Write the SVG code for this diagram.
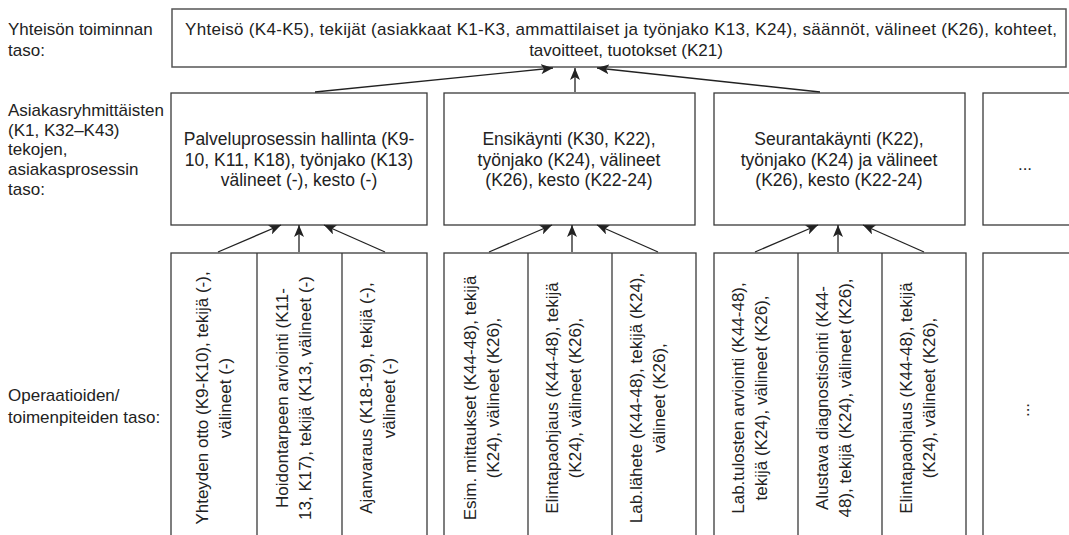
<svg xmlns="http://www.w3.org/2000/svg" width="1069" height="535" viewBox="0 0 1069 535">
  <style>
    text { font-family: "Liberation Sans", Arial, sans-serif; font-size: 17px; fill: #222; }
    .c { text-anchor: middle; }
    .mid { font-size: 17.5px; }
    .box { fill: #fff; stroke: #3a3a3a; stroke-width: 1.3; }
    .top { fill: #fff; stroke: #555; stroke-width: 1.5; }
    .div { stroke: #3a3a3a; stroke-width: 1.3; }
    .conn { stroke: #222; stroke-width: 1.3; fill: none; marker-end: url(#arrow); }
  </style>
  <defs>
    <marker id="arrow" markerUnits="userSpaceOnUse" markerWidth="13" markerHeight="10" refX="12" refY="5" orient="auto">
      <path d="M0,0 L12,5 L0,10 L3,5 z" fill="#222"/>
    </marker>
  </defs>

  <!-- level labels -->
  <g id="labels">
    <text x="8" y="35">Yhteisön toiminnan</text>
    <text x="8" y="56">taso:</text>
    <text x="8" y="116">Asiakasryhmittäisten</text>
    <text x="8" y="136">(K1, K32–K43)</text>
    <text x="8" y="155">tekojen,</text>
    <text x="8" y="175">asiakasprosessin</text>
    <text x="8" y="195">taso:</text>
    <text x="8" y="401">Operaatioiden/</text>
    <text x="8" y="423">toimenpiteiden taso:</text>
  </g>

  <!-- community level -->
  <g id="yhteiso">
    <rect class="top" x="172" y="9" width="894" height="58"/>
    <text class="c" x="621" y="35" textLength="872" lengthAdjust="spacing">Yhteisö (K4-K5), tekijät (asiakkaat K1-K3, ammattilaiset ja työnjako K13, K24), säännöt, välineet (K26), kohteet,</text>
    <text class="c" x="626" y="56">tavoitteet, tuotokset (K21)</text>
  </g>

  <!-- client process level -->
  <g id="palveluprosessi">
    <rect class="box" x="171" y="93" width="256" height="132"/>
    <text class="c mid" x="299" y="145">Palveluprosessin hallinta (K9-</text>
    <text class="c mid" x="299" y="166">10, K11, K18), työnjako (K13)</text>
    <text class="c mid" x="299" y="186">välineet (-), kesto (-)</text>
  </g>
  <g id="ensikaynti">
    <rect class="box" x="444" y="93" width="251" height="132"/>
    <text class="c mid" x="569" y="145">Ensikäynti (K30, K22),</text>
    <text class="c mid" x="569" y="166">työnjako (K24), välineet</text>
    <text class="c mid" x="569" y="186">(K26), kesto (K22-24)</text>
  </g>
  <g id="seurantakaynti">
    <rect class="box" x="714" y="93" width="251" height="132"/>
    <text class="c mid" x="839" y="145">Seurantakäynti (K22),</text>
    <text class="c mid" x="839" y="166">työnjako (K24) ja välineet</text>
    <text class="c mid" x="839" y="186">(K26), kesto (K22-24)</text>
  </g>
  <g id="muu-kaynti">
    <rect class="box" x="983" y="93" width="100" height="132"/>
    <text class="c" x="1025" y="170">...</text>
  </g>

  <!-- operation level: rotated cell texts read bottom to top -->
  <g id="operaatiot-1">
    <rect class="box" x="171" y="253" width="256" height="300"/>
    <line class="div" x1="257" y1="253" x2="257" y2="535"/>
    <line class="div" x1="342" y1="253" x2="342" y2="535"/>
    <g transform="translate(0,398) rotate(-90)">
      <text class="c" x="0" y="208">Yhteyden otto (K9-K10), tekijä (-),</text>
      <text class="c" x="0" y="231">välineet (-)</text>
      <text class="c" x="0" y="288">Hoidontarpeen arviointi (K11-</text>
      <text class="c" x="0" y="311">13, K17), tekijä (K13, välineet (-)</text>
      <text class="c" x="0" y="372">Ajanvaraus (K18-19), tekijä (-),</text>
      <text class="c" x="0" y="395">välineet (-)</text>
    </g>
  </g>
  <g id="operaatiot-2">
    <rect class="box" x="444" y="253" width="252" height="300"/>
    <line class="div" x1="528" y1="253" x2="528" y2="535"/>
    <line class="div" x1="612" y1="253" x2="612" y2="535"/>
    <g transform="translate(0,398) rotate(-90)">
      <text class="c" x="0" y="476">Esim. mittaukset (K44-48), tekijä</text>
      <text class="c" x="0" y="499">(K24), välineet (K26),</text>
      <text class="c" x="0" y="558">Elintapaohjaus (K44-48), tekijä</text>
      <text class="c" x="0" y="581">(K24), välineet (K26),</text>
      <text class="c" x="0" y="642">Lab.lähete (K44-48), tekijä (K24),</text>
      <text class="c" x="0" y="665">välineet (K26),</text>
    </g>
  </g>
  <g id="operaatiot-3">
    <rect class="box" x="714" y="253" width="252" height="300"/>
    <line class="div" x1="798" y1="253" x2="798" y2="535"/>
    <line class="div" x1="882" y1="253" x2="882" y2="535"/>
    <g transform="translate(0,398) rotate(-90)">
      <text class="c" x="0" y="744">Lab.tulosten arviointi (K44-48),</text>
      <text class="c" x="0" y="767">tekijä (K24), välineet (K26),</text>
      <text class="c" x="0" y="828">Alustava diagnostisointi (K44-</text>
      <text class="c" x="0" y="851">48), tekijä (K24), välineet (K26),</text>
      <text class="c" x="0" y="912">Elintapaohjaus (K44-48), tekijä</text>
      <text class="c" x="0" y="935">(K24), välineet (K26),</text>
    </g>
  </g>
  <g id="operaatiot-4">
    <rect class="box" x="983" y="253" width="100" height="300"/>
    <g transform="translate(0,410) rotate(-90)">
      <text class="c" x="0" y="1029">...</text>
    </g>
  </g>

  <!-- connectors -->
  <g id="connectors">
    <line class="conn" x1="315" y1="92" x2="553" y2="68"/>
    <line class="conn" x1="575" y1="92" x2="575" y2="68"/>
    <line class="conn" x1="820" y1="92" x2="597" y2="68"/>

    <line class="conn" x1="218" y1="252" x2="281" y2="225"/>
    <line class="conn" x1="299" y1="252" x2="299" y2="225"/>
    <line class="conn" x1="385" y1="252" x2="324" y2="225"/>

    <line class="conn" x1="489" y1="252" x2="552" y2="225"/>
    <line class="conn" x1="572" y1="252" x2="572" y2="225"/>
    <line class="conn" x1="658" y1="252" x2="597" y2="225"/>

    <line class="conn" x1="755" y1="252" x2="818" y2="225"/>
    <line class="conn" x1="838" y1="252" x2="838" y2="225"/>
    <line class="conn" x1="924" y1="252" x2="863" y2="225"/>
  </g>
</svg>
